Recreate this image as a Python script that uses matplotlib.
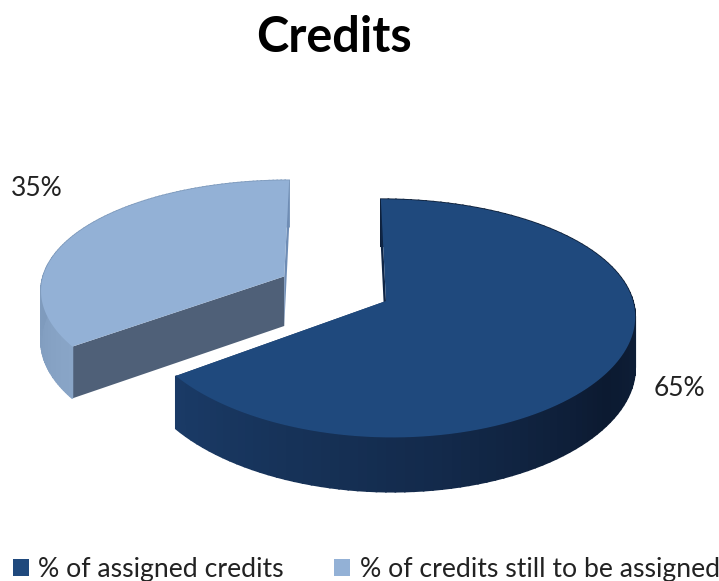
import numpy as np
from matplotlib import pyplot as plt
from matplotlib.colors import to_rgb
from matplotlib.patches import Patch, Polygon

TITLE = 'Credits'
CATEGORIES = ['% of assigned credits', '% of credits still to be assigned']
VALUES = [65, 35]

TOP_COLORS = ['#1f497d', '#93b1d6']
CUT_COLORS = ['#1a3a64', '#4f6078']
EDGE_COLORS = ['#0f2545', '#6f8db5']
# rim shading, keyed on the clockwise angle from 12 o'clock
RIM_ANGLES = [[90, 125, 170, 234], [234, 270, 360]]
RIM_COLORS = [['#0e2039', '#0c1a31', '#132a4b', '#1a3b67'], ['#89a5c7', '#7f9bbd', '#7f9bbd']]
LAYERS = [2, 1]

# projection of the pie onto pixels
CX, CY = 334.5, 288.5
RADIUS_X, RADIUS_Y = 244, 113
PERSP_X, PERSP_Y = 0.11, 0.143
EXPLODE_X, EXPLODE_Y = 0.234, 0.24
DEPTH = 50

plt.rcParams['font.family'] = ['Lato', 'DejaVu Sans']


def project(u, v, drop=0.):
    x = CX + RADIUS_X * u / (1 + PERSP_X * v)
    y = CY - RADIUS_Y * v / (1 + PERSP_Y * v) + drop * DEPTH / (1 + 0.5 * PERSP_Y * v)
    return np.column_stack([x, y])


def blend(stops, colors, theta):
    rgb = np.array([to_rgb(c) for c in colors])
    return [float(np.interp(theta, stops, rgb[:, i])) for i in range(3)]


def draw_slice(ax, start, stop, index):
    mid = np.radians((start + stop) / 2)
    ou, ov = np.array([EXPLODE_X * np.sin(mid)]), np.array([EXPLODE_Y * np.cos(mid)])
    thetas = np.linspace(start, stop, 121)
    u = ou + np.sin(np.radians(thetas))
    v = ov + np.cos(np.radians(thetas))

    rim_top, rim_bottom = project(u, v), project(u, v, 1.)
    apex_top, apex_bottom = project(ou, ov), project(ou, ov, 1.)
    layer = LAYERS[index]

    # the dark slice ends at the lower cut, the light one starts there
    low = -1 if index == 0 else 0
    high = 0 if index == 0 else -1

    cut = np.vstack([rim_top[low], rim_bottom[low], apex_bottom, apex_top])
    ax.add_patch(Polygon(cut, closed=True, fc=CUT_COLORS[index], ec='none', zorder=layer))

    # outer wall, drawn in short strips so the shade can change with the angle
    for i in range(len(thetas) - 1):
        strip = np.vstack([rim_top[i], rim_top[i + 1], rim_bottom[i + 1], rim_bottom[i]])
        color = blend(RIM_ANGLES[index], RIM_COLORS[index], thetas[i])
        ax.add_patch(Polygon(strip, closed=True, fc=color, ec=color, lw=1.2, zorder=layer))

    # the cut at 12 o'clock, seen almost edge on
    sliver = np.vstack([rim_top[high], rim_bottom[high], apex_bottom, apex_top])
    ax.add_patch(Polygon(sliver, closed=True, fc=EDGE_COLORS[index], ec='none', zorder=layer))

    top = np.vstack([apex_top, rim_top])
    ax.add_patch(Polygon(top, closed=True, fc=TOP_COLORS[index], ec='none', zorder=layer))


fig = plt.figure(figsize=(7.19, 5.81), dpi=100)
ax = fig.add_axes([0, 0, 1, 1])
ax.set_xlim(0, 719)
ax.set_ylim(581, 0)
ax.axis('off')

total = sum(VALUES)
edges = np.cumsum([0] + VALUES) / total * 360
for k in range(len(VALUES)):
    draw_slice(ax, edges[k], edges[k + 1], k)

ax.text(334, 38, TITLE, fontsize=35, fontweight='bold', color='black', ha='center', va='center')
ax.text(679, 389, f'{VALUES[0]}%', fontsize=19, color='#222222', ha='center', va='center')
ax.text(37, 188, f'{VALUES[1]}%', fontsize=19, color='#222222', ha='center', va='center')

handles = [Patch(fc=TOP_COLORS[i], ec='none', label=CATEGORIES[i]) for i in range(2)]
ax.legend(handles=handles, ncols=2, loc='lower left', bbox_to_anchor=(-0.001, -0.024), frameon=False,
          fontsize=19.2, handlelength=0.6, handleheight=0.6, handletextpad=0.35, columnspacing=1.9,
          labelcolor='#222222', borderpad=0, borderaxespad=0.5)

fig.savefig('out.png', dpi=100)
plt.close('all')
